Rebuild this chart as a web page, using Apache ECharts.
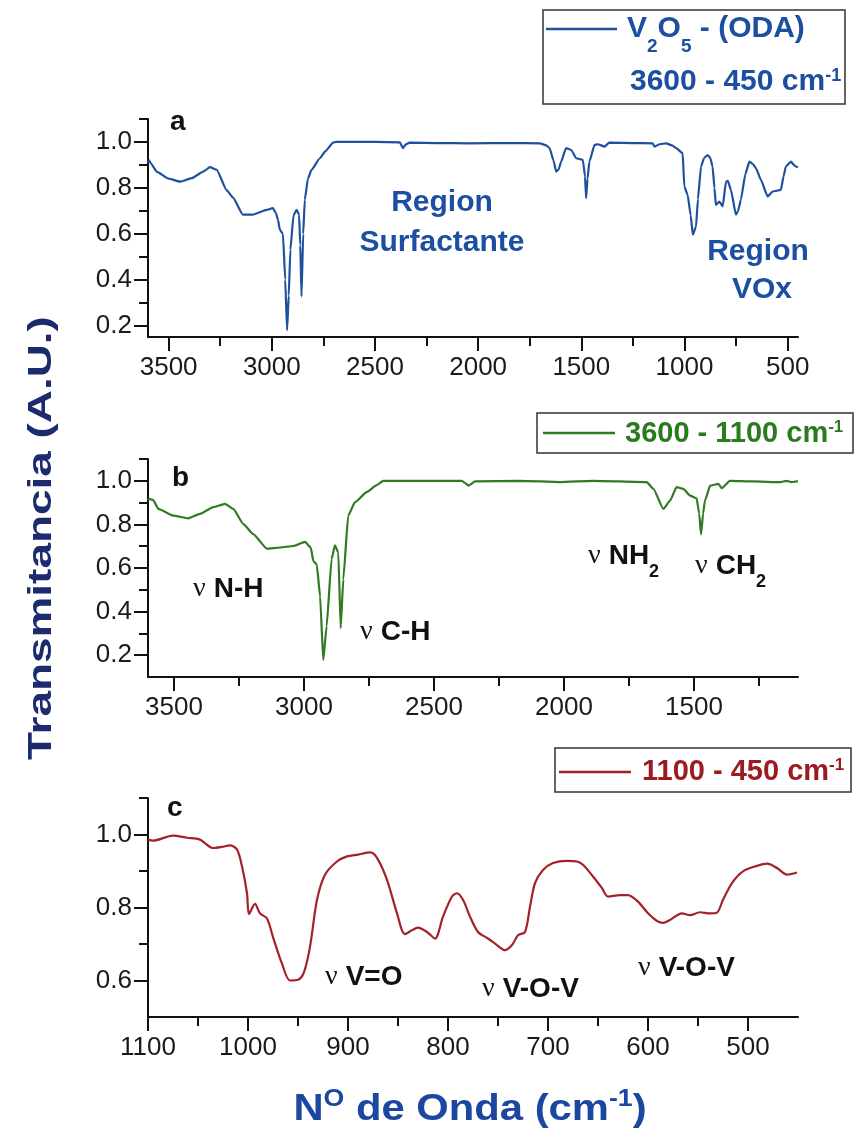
<!DOCTYPE html>
<html>
<head>
<meta charset="utf-8">
<script src="https://cdn.jsdelivr.net/npm/echarts@6/dist/echarts.min.js"></script>
<style>
  html, body { margin: 0; padding: 0; background: #fff; }
  #chart { width: 855px; height: 1144px; }
</style>
</head>
<body>
<div id="chart"></div>
<script>
// espectro completo 3600 - 450 cm-1 (a)
var waveA = [3600, 3595, 3585, 3558, 3500, 3445, 3388, 3330, 3300, 3267, 3219, 3188, 3140, 3092, 3025, 2995, 2980, 2970, 2961, 2946,
  2935, 2926, 2918, 2910, 2895, 2880, 2868, 2862, 2856, 2848, 2840, 2825, 2808, 2767, 2740, 2703, 2687, 2500, 2380, 2364,
  2350, 2332, 2200, 2041, 1850, 1700, 1670, 1654, 1635, 1622, 1610, 1598, 1574, 1549, 1525, 1493, 1482, 1477, 1470, 1461,
  1436, 1420, 1388, 1364, 1250, 1154, 1146, 1120, 1089, 1060, 1041, 1009, 1001, 985, 970, 960, 944, 935, 920, 905,
  888, 875, 864, 855, 848, 831, 815, 799, 790, 775, 751, 740, 727, 705, 686, 670, 654, 630, 597, 573,
  533, 520, 509, 484, 470, 460, 450];
var transA = [0.91, 0.92, 0.905, 0.871, 0.84, 0.827, 0.842, 0.872, 0.89, 0.878, 0.79, 0.757, 0.683, 0.683, 0.704, 0.712, 0.69, 0.66, 0.617, 0.60,
  0.40, 0.18, 0.33, 0.53, 0.68, 0.704, 0.683, 0.55, 0.327, 0.60, 0.748, 0.84, 0.878, 0.929, 0.96, 0.997, 1.0, 1.0, 0.998, 0.973,
  0.99, 0.997, 0.995, 0.994, 0.995, 0.994, 0.985, 0.973, 0.92, 0.871, 0.88, 0.914, 0.973, 0.965, 0.929, 0.922, 0.85, 0.755, 0.84, 0.914,
  0.987, 0.99, 0.98, 0.997, 0.995, 0.994, 0.98, 0.99, 0.994, 0.985, 0.973, 0.951, 0.806, 0.77, 0.68, 0.596, 0.632, 0.75, 0.893, 0.93,
  0.943, 0.93, 0.893, 0.80, 0.726, 0.74, 0.719, 0.827, 0.83, 0.791, 0.683, 0.70, 0.748, 0.86, 0.914, 0.905, 0.886, 0.835, 0.762, 0.784,
  0.791, 0.85, 0.893, 0.914, 0.90, 0.893, 0.89];

// region 3600 - 1100 cm-1 (b)
var waveB = [3600, 3595, 3580, 3560, 3503, 3445, 3400, 3349, 3304, 3272, 3233, 3195, 3143, 3092, 3041, 2996, 2974, 2964, 2951, 2938,
  2926, 2913, 2894, 2881, 2868, 2859, 2849, 2830, 2804, 2759, 2720, 2695, 2515, 2394, 2380, 2368, 2342, 2169, 2015, 1887,
  1682, 1656, 1618, 1592, 1567, 1541, 1515, 1490, 1480, 1473, 1465, 1458, 1438, 1406, 1393, 1362, 1272, 1169, 1144, 1124,
  1105, 1100];
var transB = [0.91, 0.917, 0.912, 0.871, 0.84, 0.828, 0.848, 0.879, 0.894, 0.871, 0.801, 0.755, 0.689, 0.694, 0.701, 0.72, 0.694, 0.632, 0.617, 0.47,
  0.178, 0.332, 0.64, 0.704, 0.671, 0.324, 0.547, 0.84, 0.902, 0.948, 0.98, 1.0, 1.0, 1.0, 0.99, 0.978, 0.997, 1.0, 0.994, 1.0,
  0.994, 0.963, 0.871, 0.909, 0.971, 0.963, 0.932, 0.92, 0.85, 0.755, 0.85, 0.909, 0.978, 0.986, 0.966, 1.0, 0.997, 0.994, 1.0, 0.994,
  0.997, 0.996];

// region 1100 - 450 cm-1 (c)
var waveC = [1100, 1095, 1075, 1061, 1048, 1035, 1026, 1018, 1011, 1006, 1001, 999, 993, 988, 981, 975, 966, 958, 950, 944,
  938, 931, 923, 911, 901, 890, 878, 871, 861, 851, 843, 836, 830, 821, 813, 805, 796, 791, 785, 778,
  770, 760, 751, 743, 736, 730, 723, 718, 713, 705, 695, 681, 671, 665, 655, 646, 640, 628, 620, 610,
  600, 591, 585, 578, 566, 558, 548, 538, 531, 525, 516, 505, 491, 481, 471, 461, 451];
var transC = [0.986, 0.983, 0.997, 0.991, 0.986, 0.963, 0.966, 0.97, 0.959, 0.913, 0.839, 0.782, 0.81, 0.784, 0.77, 0.719, 0.646, 0.60, 0.602, 0.623,
  0.692, 0.821, 0.89, 0.926, 0.94, 0.945, 0.951, 0.936, 0.876, 0.784, 0.727, 0.738, 0.745, 0.733, 0.715, 0.775, 0.83, 0.839, 0.821, 0.775,
  0.733, 0.715, 0.697, 0.683, 0.697, 0.724, 0.733, 0.802, 0.867, 0.903, 0.922, 0.928, 0.926, 0.917, 0.885, 0.853, 0.83, 0.834, 0.834, 0.816,
  0.784, 0.763, 0.758, 0.766, 0.784, 0.779, 0.787, 0.784, 0.786, 0.821, 0.867, 0.899, 0.914, 0.92, 0.908, 0.89, 0.896];

// marcas de los ejes
var xMajorA = [3500, 3000, 2500, 2000, 1500, 1000, 500];
var xMinorA = [3250, 2750, 2250, 1750, 1250, 750];
var xMajorB = [3500, 3000, 2500, 2000, 1500];
var xMinorB = [3250, 2750, 2250, 1750, 1250];
var xMajorC = [1100, 1000, 900, 800, 700, 600, 500];
var xMinorC = [1050, 950, 850, 750, 650, 550];
var yMajorAB = [0.2, 0.4, 0.6, 0.8, 1.0];
var yMinorA = [0.3, 0.5, 0.7, 0.9, 1.1];
var yMinorB = [0.3, 0.5, 0.7, 0.9, 1.1];
var yMajorC = [0.6, 0.8, 1.0];
var yMinorC = [0.7, 0.9, 1.1];

var BLUE = '#1f4f9f', GREEN = '#2f7a22', RED = '#a3222a';
var FONT = 'Liberation Sans, Arial, sans-serif';
var SERIF = 'Liberation Serif, Times New Roman, serif';

function pairs(xs, ys) {
    return xs.map(function (x, i) { return [x, ys[i]]; });
}

// dos ejes por panel: uno con etiquetas y marcas largas, otro con marcas cortas
function xAxes(grid, min, max, major, minor) {
    var line = { color: '#111', width: 2 };
    return [
        {
            type: 'value', gridIndex: grid, min: min, max: max, inverse: true, position: 'bottom',
            splitLine: { show: false },
            axisLine: { onZero: false, lineStyle: line },
            axisTick: { customValues: major, length: 14, lineStyle: line },
            axisLabel: {
                customValues: major, margin: 18, fontSize: 26, color: '#1a1a1a', fontFamily: FONT,
                formatter: function (v) { return String(v); }
            }
        },
        {
            type: 'value', gridIndex: grid, min: min, max: max, inverse: true, position: 'bottom',
            splitLine: { show: false },
            axisLine: { show: false, onZero: false },
            axisTick: { customValues: minor, length: 9, lineStyle: line },
            axisLabel: { show: false }
        }
    ];
}

function yAxes(grid, min, max, major, minor) {
    var line = { color: '#111', width: 2 };
    return [
        {
            type: 'value', gridIndex: grid, min: min, max: max, position: 'left',
            splitLine: { show: false },
            axisLine: { onZero: false, lineStyle: line },
            axisTick: { customValues: major, length: 14, lineStyle: line },
            axisLabel: {
                customValues: major, margin: 16, fontSize: 26, color: '#1a1a1a', fontFamily: FONT,
                formatter: function (v) { return v.toFixed(1); }
            }
        },
        {
            type: 'value', gridIndex: grid, min: min, max: max, position: 'left',
            splitLine: { show: false },
            axisLine: { show: false, onZero: false },
            axisTick: { customValues: minor, length: 9, lineStyle: line },
            axisLabel: { show: false }
        }
    ];
}

function txt(x, y, text, size, color, extra) {
    var el = {
        type: 'text', x: x, y: y, silent: true,
        style: {
            text: text, fill: color, fontSize: size, fontWeight: 'bold', fontFamily: FONT,
            align: 'left', verticalAlign: 'top'
        }
    };
    if (extra) {
        for (var k in extra) {
            if (k === 'style') {
                for (var s in extra.style) el.style[s] = extra.style[s];
            } else {
                el[k] = extra[k];
            }
        }
    }
    return el;
}

// estilos rich: texto normal, subindice, superindice, letra griega
function richStyles(size, color) {
    return {
        t: { fontSize: size, fontWeight: 'bold', fontFamily: FONT, fill: color, verticalAlign: 'top' },
        s: { fontSize: Math.round(size * 0.64), fontWeight: 'bold', fontFamily: FONT, fill: color, verticalAlign: 'top', padding: [Math.round(size * 0.75), 0, 0, 0] },
        p: { fontSize: Math.round(size * 0.6), fontWeight: 'bold', fontFamily: FONT, fill: color, verticalAlign: 'top' },
        n: { fontSize: size, fontWeight: 'normal', fontFamily: SERIF, fill: color, verticalAlign: 'top', padding: [0, 8, 0, 0] }
    };
}

function legendBox(x, y, w, h, lineY, lineX1, lineX2, color) {
    return [
        { type: 'rect', shape: { x: x, y: y, width: w, height: h }, style: { fill: '#fff', stroke: '#333', lineWidth: 1.5 }, z: 10 },
        { type: 'line', shape: { x1: lineX1, y1: lineY, x2: lineX2, y2: lineY }, style: { stroke: color, lineWidth: 2.5 }, z: 11 }
    ];
}

var graphics = [];
// leyendas
graphics = graphics.concat(legendBox(543, 10, 302, 94, 29, 546, 617, BLUE));
graphics.push(txt(627, 14, '{t|V}{s|2}{t|O}{s|5}{t| - (ODA)}', 30, BLUE, { z: 12, style: { rich: richStyles(30, '#1c4ea1') } }));
graphics.push(txt(630, 67, '{t|3600 - 450 cm}{p|-1}', 30, BLUE, { z: 12, style: { rich: richStyles(30, '#1c4ea1') } }));

graphics = graphics.concat(legendBox(537, 413, 316, 40, 433, 543, 615, GREEN));
graphics.push(txt(625, 419, '{t|3600 - 1100 cm}{p|-1}', 29, GREEN, { z: 12, style: { rich: richStyles(29, '#2a7a1e') } }));

graphics = graphics.concat(legendBox(555, 748, 296, 44, 772, 559, 631, RED));
graphics.push(txt(642, 757, '{t|1100 - 450 cm}{p|-1}', 29, RED, { z: 12, style: { rich: richStyles(29, '#9c1b20') } }));

// letras de los paneles
graphics.push(txt(170, 108, 'a', 28, '#111'));
graphics.push(txt(172, 464, 'b', 28, '#111'));
graphics.push(txt(167, 794, 'c', 28, '#111'));

// anotaciones panel a
graphics.push(txt(442, 188, 'Region', 30, '#1c4ea1', { style: { align: 'center' } }));
graphics.push(txt(442, 228, 'Surfactante', 30, '#1c4ea1', { style: { align: 'center' } }));
graphics.push(txt(758, 237, 'Region', 30, '#1c4ea1', { style: { align: 'center' } }));
graphics.push(txt(762, 275, 'VOx', 30, '#1c4ea1', { style: { align: 'center' } }));

// anotaciones panel b
var rb = richStyles(28, '#111');
graphics.push(txt(193, 575, '{n|ν}{t|N-H}', 28, '#111', { style: { rich: rb } }));
graphics.push(txt(360, 618, '{n|ν}{t|C-H}', 28, '#111', { style: { rich: rb } }));
graphics.push(txt(588, 542, '{n|ν}{t|NH}{s|2}', 28, '#111', { style: { rich: rb } }));
graphics.push(txt(695, 552, '{n|ν}{t|CH}{s|2}', 28, '#111', { style: { rich: rb } }));

// anotaciones panel c
graphics.push(txt(325, 963, '{n|ν}{t|V=O}', 28, '#111', { style: { rich: rb } }));
graphics.push(txt(482, 975, '{n|ν}{t|V-O-V}', 28, '#111', { style: { rich: rb } }));
graphics.push(txt(638, 954, '{n|ν}{t|V-O-V}', 28, '#111', { style: { rich: rb } }));

// titulos de los ejes
graphics.push({
    type: 'text', x: 42, y: 538, rotation: Math.PI / 2, scaleX: 1.35, silent: true,
    style: { text: 'Transmitancia (A.U.)', fill: '#1b2b6e', fontSize: 34, fontWeight: 'bold', fontFamily: FONT, align: 'center', verticalAlign: 'middle' }
});
graphics.push({
    type: 'text', x: 470, y: 1088, scaleX: 1.16, silent: true,
    style: {
        text: '{t|N}{p|O}{t| de Onda (cm}{p|-1}{t|)}', fill: '#1c47a0', fontSize: 36, fontWeight: 'bold', fontFamily: FONT,
        align: 'center', verticalAlign: 'top',
        rich: {
            t: { fontSize: 36, fontWeight: 'bold', fontFamily: FONT, fill: '#1c47a0', verticalAlign: 'top', padding: [4, 0, 0, 0] },
            p: { fontSize: 23, fontWeight: 'bold', fontFamily: FONT, fill: '#1c47a0', verticalAlign: 'top' }
        }
    }
});

var chart = echarts.init(document.getElementById('chart'));
chart.setOption({
    animation: false,
    backgroundColor: '#fff',
    grid: [
        { left: 148, top: 119, width: 650, height: 218 },
        { left: 148, top: 459, width: 650, height: 218 },
        { left: 148, top: 798, width: 650, height: 219 }
    ],
    xAxis: [].concat(
        xAxes(0, 450, 3600, xMajorA, xMinorA),
        xAxes(1, 1100, 3600, xMajorB, xMinorB),
        xAxes(2, 450, 1100, xMajorC, xMinorC)
    ),
    yAxis: [].concat(
        yAxes(0, 0.15, 1.1, yMajorAB, yMinorA),
        yAxes(1, 0.1, 1.1, yMajorAB, yMinorB),
        yAxes(2, 0.5, 1.1, yMajorC, yMinorC)
    ),
    series: [
        {
            name: 'V2O5 - (ODA)', type: 'line', xAxisIndex: 0, yAxisIndex: 0, symbol: 'none',
            smooth: 0.15, smoothMonotone: 'x',
            lineStyle: { color: BLUE, width: 2.2 }, data: pairs(waveA, transA)
        },
        {
            name: '3600 - 1100', type: 'line', xAxisIndex: 2, yAxisIndex: 2, symbol: 'none',
            smooth: 0.15, smoothMonotone: 'x',
            lineStyle: { color: GREEN, width: 2.2 }, data: pairs(waveB, transB)
        },
        {
            name: '1100 - 450', type: 'line', xAxisIndex: 4, yAxisIndex: 4, symbol: 'none', smooth: 0.3,
            lineStyle: { color: RED, width: 2.2 }, data: pairs(waveC, transC)
        }
    ],
    graphic: graphics
});

window.addEventListener('resize', function () {
    chart.resize();
});
</script>
</body>
</html>
